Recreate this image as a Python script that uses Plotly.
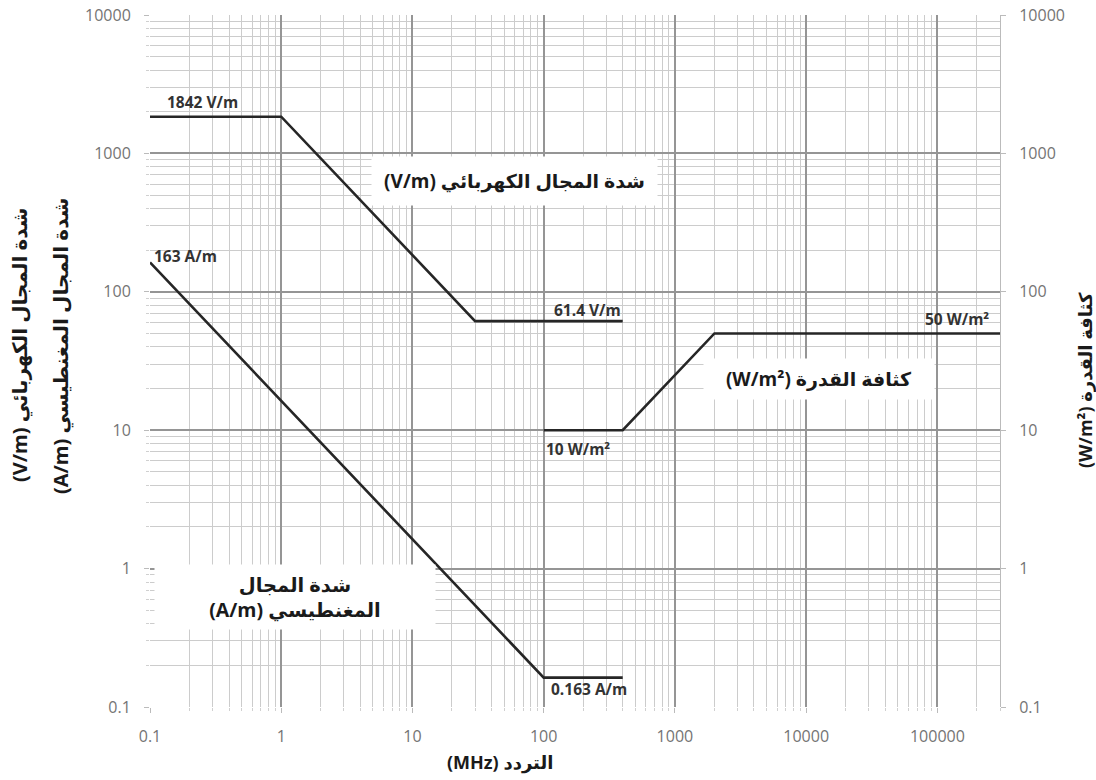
import plotly.graph_objects as go
import numpy as np

# Data
e_freq = [0.1, 1, 30, 400]
e_vals = [1842, 1842, 61.4, 61.4]
h_freq = [0.1, 100, 400]
h_vals = [163, 0.163, 0.163]
s_freq = [100, 400, 2000, 300000]
s_vals = [10, 10, 50, 50]

x_tickvals = [0.1, 1, 10, 100, 1000, 10000, 100000]
x_ticktext = ["0.1", "1", "10", "100", "1000", "10000", "100000"]
y_tickvals = [0.1, 1, 10, 100, 1000, 10000]
y_ticktext = ["0.1", "1", "10", "100", "1000", "10000"]

FONT = "Open Sans, DejaVu Sans, sans-serif"
LINE = dict(color="#262626", width=2.6)

fig = go.Figure()
fig.add_trace(go.Scatter(x=e_freq, y=e_vals, mode="lines", line=LINE, showlegend=False, hoverinfo="skip"))
fig.add_trace(go.Scatter(x=h_freq, y=h_vals, mode="lines", line=LINE, showlegend=False, hoverinfo="skip"))
fig.add_trace(go.Scatter(x=s_freq, y=s_vals, mode="lines", line=LINE, showlegend=False, hoverinfo="skip", yaxis="y2"))

tickfont = dict(family=FONT, size=16, color="#747474")
minor = dict(dtick="D1", showgrid=True, gridcolor="#cccccc", gridwidth=1,
             ticks="outside", ticklen=3, tickcolor="#d0d0d0")

fig.update_layout(
    width=1096, height=780,
    margin=dict(l=150, r=96, t=15, b=73),
    plot_bgcolor="white", paper_bgcolor="white",
    font=dict(family=FONT),
    xaxis=dict(type="log", range=[-1, np.log10(300000)], tickvals=x_tickvals, ticktext=x_ticktext,
               showgrid=True, gridcolor="#959595", gridwidth=1.6, minor=minor, automargin=False,
               ticks="outside", ticklen=5, tickcolor="#bbbbbb", tickfont=tickfont, zeroline=False,
               ticklabelstandoff=10, showline=False),
    yaxis=dict(type="log", range=[-1, 4], tickvals=y_tickvals, ticktext=y_ticktext,
               showgrid=True, gridcolor="#959595", gridwidth=1.6, minor=minor, automargin=False,
               ticks="outside", ticklen=5, tickcolor="#bbbbbb", tickfont=tickfont, zeroline=False,
               ticklabelstandoff=10, showline=False),
    yaxis2=dict(type="log", range=[-1, 4], tickvals=y_tickvals, ticktext=y_ticktext,
                overlaying="y", side="right", showgrid=False, automargin=False,
                ticks="outside", ticklen=5, tickcolor="#bbbbbb", tickfont=tickfont, zeroline=False,
                ticklabelstandoff=10, showline=True, linecolor="#bbbbbb", linewidth=1),
)

lab = dict(family=FONT, size=15.5, color="#333333")
title_font = dict(family=FONT, size=18, color="#1a1a1a")
left_title_font = dict(family=FONT, size=20, color="#1a1a1a")

def paper_ann(text, px, py, **kw):
    d = dict(text=text, x=(px - 150) / 850, y=(707 - py) / 692, xref="paper", yref="paper",
             showarrow=False, xanchor="center", yanchor="middle")
    d.update(kw)
    fig.add_annotation(**d)

# value labels (positioned in data coords)
fig.add_annotation(x=np.log10(0.13), y=np.log10(1842), text="<b>1842 V/m</b>", showarrow=False,
                   xanchor="left", yanchor="middle", yshift=15, font=lab)
fig.add_annotation(x=np.log10(0.103), y=np.log10(163), text="<b>163 A/m</b>", showarrow=False,
                   xanchor="left", yanchor="middle", yshift=6, font=lab)
fig.add_annotation(x=np.log10(400), y=np.log10(61.4), text="<b>61.4 V/m</b>", showarrow=False,
                   xanchor="right", yanchor="middle", yshift=11, font=lab)
fig.add_annotation(x=np.log10(300000), y=np.log10(50), text="<b>50 W/m²</b>", showarrow=False,
                   xanchor="right", yanchor="middle", xshift=-9, yshift=14, font=lab)
fig.add_annotation(x=np.log10(100), y=np.log10(10), text="<b>10 W/m²</b>", showarrow=False,
                   xanchor="left", yanchor="middle", yshift=-19, font=lab)
fig.add_annotation(x=np.log10(100), y=np.log10(0.163), text="<b>0.163 A/m</b>", showarrow=False,
                   xanchor="left", yanchor="middle", xshift=5, yshift=-11, font=lab)

# series name boxes (white background)
box_font = dict(family=FONT, size=19, color="#1a1a1a")
fig.add_annotation(x=np.log10(60), y=np.log10(630), text="<b>(V/m) شدة المجال الكهربائي</b>", showarrow=False,
                   bgcolor="white", width=283, height=46, font=box_font, xanchor="center", yanchor="middle")
fig.add_annotation(x=np.log10(12600), y=np.log10(23.4), text="<b>(W/m²) كثافة القدرة</b>", showarrow=False,
                   bgcolor="white", width=228, height=38, font=box_font, xanchor="center", yanchor="middle")
fig.add_annotation(x=np.log10(1.27), y=np.log10(0.62), text="<b>شدة المجال<br>(A/m) المغنطيسي</b>", showarrow=False,
                   bgcolor="white", width=278, height=62, font=dict(family=FONT, size=19.5, color="#1a1a1a"),
                   xanchor="center", yanchor="middle")

# axis titles
paper_ann("<b>(V/m) شدة المجال الكهربائي</b>", 19, 345, textangle=-90, font=left_title_font)
paper_ann("<b>(A/m) شدة المجال المغنطيسي</b>", 60, 346, textangle=-90, font=left_title_font)
paper_ann("<b>(W/m²) كثافة القدرة</b>", 1085, 380, textangle=-90, font=title_font)
paper_ann("<b>(MHz) التردد</b>", 500, 762, font=title_font)

fig.write_html("out.html")
